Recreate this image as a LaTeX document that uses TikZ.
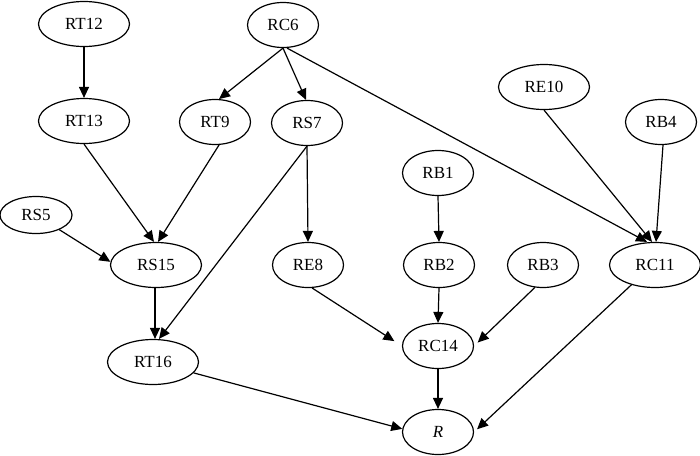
\documentclass[tikz,border=0pt]{standalone}
\usepackage{fontspec}
\setmainfont{Liberation Serif}
\usetikzlibrary{shapes.geometric,arrows.meta}
\tikzset{
  nd/.style={ellipse,draw,line width=1.2pt,inner sep=0pt,minimum height=45pt,font=\fontsize{17}{20}\selectfont},
  wide/.style={nd,minimum width=91pt},
  narrow/.style={nd,minimum width=71pt},
  small/.style={nd,minimum width=72pt,minimum height=37pt},
  arr/.style={line width=1.2pt,-{Triangle[length=11pt,width=10pt]}}
}
\begin{document}
\begin{tikzpicture}[x=1pt,y=-1pt]
\useasboundingbox (0,0) rectangle (700,455);
\node[wide]   (RT12) at (84,24)   {RT12};
\node[narrow] (RC6)  at (283,25)  {RC6};
\node[wide]   (RT13) at (84,121)  {RT13};
\node[narrow] (RT9)  at (215,122) {RT9};
\node[narrow] (RS7)  at (307,123) {RS7};
\node[wide]   (RE10) at (544,87)  {RE10};
\node[narrow] (RB4)  at (661,122) {RB4};
\node[narrow] (RB1)  at (438,173) {RB1};
\node[small]  (RS5)  at (36,215)  {RS5};
\node[wide]   (RS15) at (156,265) {RS15};
\node[narrow] (RE8)  at (308,265) {RE8};
\node[narrow] (RB2)  at (439,265) {RB2};
\node[narrow] (RB3)  at (543,265) {RB3};
\node[wide]   (RC11) at (655,265) {RC11};
\node[wide]   (RT16) at (153,362) {RT16};
\node[narrow] (RC14) at (438,346) {RC14};
\node[narrow] (R)    at (438,432) {\itshape R};

\draw[arr] (RT12.south) -- (RT13.north);
\draw[arr] (RC6.south) -- (RT9.80);
\draw[arr] (RC6.south) -- ([xshift=-1pt]RS7.north);
\draw[arr] ([xshift=4pt]RC6.south) -- ([xshift=-8pt]RC11.north);
\draw[arr] (RE10.south) -- ([xshift=-3pt]RC11.north);
\draw[arr] ([xshift=2pt]RB4.south) -- ([xshift=1pt]RC11.north);
\draw[arr] (RT13.south) -- ([xshift=-2pt]RS15.north);
\draw[arr] (RT9.-80) -- ([xshift=2pt]RS15.north);
\draw[arr] (RS5) -- (RS15.176);
\draw[arr] ([xshift=-1pt]RS15.south) -- ([xshift=2pt]RT16.north);
\draw[arr] (RS7.south) -- ([xshift=6pt]RT16.north);
\draw[arr] (RS7.south) -- (RE8.north);
\draw[arr] (RB1.south) -- (RB2.north);
\draw[arr,shorten >=9pt] (RE8.-80) -- (RC14.west);
\draw[arr] (RB2.south) -- (RC14.north);
\draw[arr,shorten >=5pt] (RB3.-110) -- (RC14.east);
\draw[arr] (RC14.south) -- (R.north);
\draw[arr] (RT16.-15) -- (R.175);
\draw[arr,shorten >=4pt] (RC11.-140) -- (R.east);
\end{tikzpicture}
\end{document}
